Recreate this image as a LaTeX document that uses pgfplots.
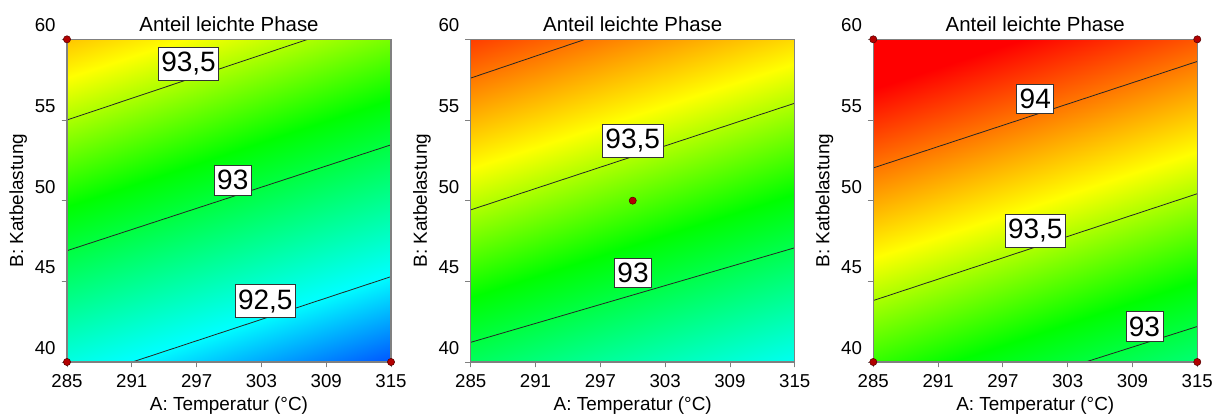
\documentclass[border=0pt]{standalone}
\usepackage{fontspec}
\setmainfont{Liberation Sans}
\usepackage{pgfplots}
\pgfplotsset{compat=1.18}

\pgfplotsset{
  de/.style={
    view={0}{90},
    scale only axis, width=243pt, height=242pt,
    xmin=285, xmax=315, ymin=40, ymax=60,
    xtick={285,291,297,303,309,315},
    ytick={40,45,50,55,60},
    xtick pos=bottom, ytick pos=left,
    hide z axis,
    tick align=outside,
    major tick length=4pt,
    tick style={gray, line width=0.6pt},
    axis line style={gray, line width=0.8pt},
    /pgf/number format/assume math mode=true,
    /pgf/number format/1000 sep={},
    tick label style={font=\fontsize{14}{14}\selectfont},
    xticklabel style={yshift=-2pt},
    yticklabel style={anchor=south east, yshift=2pt, xshift=-1pt},
    xlabel={A: Temperatur (°C)},
    ylabel={B: Katbelastung},
    label style={font=\fontsize{14.2}{14}\selectfont},
    xlabel style={yshift=0pt},
    ylabel style={yshift=-1pt},
    title={Anteil leichte Phase},
    title style={font=\fontsize{15.3}{15}\selectfont, yshift=-4pt},
    colormap={designexpert}{rgb255(0pt)=(0,0,255); rgb255(50pt)=(0,255,255); rgb255(117pt)=(0,255,0); rgb255(166pt)=(255,255,0); rgb255(230pt)=(255,0,0); rgb255(250pt)=(255,0,0)},
    point meta min=92.0, point meta max=94.5,
  },
  cline/.style={black!85, line width=0.6pt},
  dot/.style={only marks, mark=*, mark size=2.7pt, mark options={fill=red!70!black, draw=red!35!black}},
}
\tikzset{
  clab/.style={fill=white, draw=black!80, line width=0.5pt, inner xsep=2.2pt, inner ysep=3.7pt, font=\fontsize{21}{21}\selectfont},
}

\begin{document}
\begin{tikzpicture}

% ---------- panel 1
\begin{axis}[de, at={(0pt,0pt)}]
\addplot3[surf, shader=interp, mesh/rows=5, point meta=explicit] table[meta=z] {
A B z
285 40 92.574
291 40 92.493
297 40 92.411
303 40 92.330
309 40 92.248
315 40 92.167
285 45 92.883
291 45 92.801
297 45 92.720
303 45 92.639
309 45 92.557
315 45 92.476
285 50 93.191
291 50 93.110
297 50 93.028
303 50 92.947
309 50 92.865
315 50 92.784
285 55 93.500
291 55 93.418
297 55 93.337
303 55 93.255
309 55 93.174
315 55 93.092
285 60 93.808
291 60 93.727
297 60 93.645
303 60 93.564
309 60 93.482
315 60 93.401
};
\addplot3[cline] coordinates {(285,55,95) (307.3,60,95)};
\addplot3[cline] coordinates {(285,46.9,95) (315,53.46,95)};
\addplot3[cline] coordinates {(291.05,40,95) (315,45.29,95)};
\node[clab] at (axis cs:296.25,58.49,95) {93,5};
\node[clab] at (axis cs:300.35,51.28,95) {93};
\node[clab] at (axis cs:303.36,43.78,95) {92,5};
\addplot3[dot, clip=false] coordinates {(285,60,95) (285,40,95) (315,40,95)};
\end{axis}

% ---------- panel 2
\begin{axis}[de, at={(302.8pt,0pt)}]
\addplot3[surf, shader=interp, mesh/rows=5, point meta=explicit] table[meta=z] {
A B z
285 40 92.926
291 40 92.847
297 40 92.768
303 40 92.690
309 40 92.611
315 40 92.532
285 45 93.231
291 45 93.152
297 45 93.074
303 45 92.995
309 45 92.916
315 45 92.837
285 50 93.537
291 50 93.458
297 50 93.379
303 50 93.300
309 50 93.222
315 50 93.143
285 55 93.842
291 55 93.763
297 55 93.684
303 55 93.606
309 55 93.527
315 55 93.448
285 60 94.147
291 60 94.068
297 60 93.989
303 60 93.911
309 60 93.832
315 60 93.753
};
\addplot3[cline] coordinates {(285,57.6,95) (295.6,60,95)};
\addplot3[cline] coordinates {(285,49.43,95) (315,56.04,95)};
\addplot3[cline] coordinates {(285,41.22,95) (315,47.08,95)};
\node[clab] at (axis cs:300.0,53.70,95) {93,5};
\node[clab] at (axis cs:300.03,45.53,95) {93};
\addplot3[dot] coordinates {(300,50,95)};
\end{axis}

% ---------- panel 3
\begin{axis}[de, at={(604.7pt,0pt)}]
\addplot3[surf, shader=interp, mesh/rows=5, point meta=explicit] table[meta=z] {
A B z
285 40 93.268
291 40 93.188
297 40 93.107
303 40 93.026
309 40 92.946
315 40 92.865
285 45 93.573
291 45 93.493
297 45 93.412
303 45 93.331
309 45 93.251
315 45 93.170
285 50 93.878
291 50 93.798
297 50 93.717
303 50 93.636
309 50 93.556
315 50 93.475
285 55 94.183
291 55 94.103
297 55 94.022
303 55 93.941
309 55 93.861
315 55 93.780
285 60 94.488
291 60 94.408
297 60 94.327
303 60 94.246
309 60 94.166
315 60 94.085
};
\addplot3[cline] coordinates {(285,52.03,95) (315,58.63,95)};
\addplot3[cline] coordinates {(285,43.81,95) (315,50.43,95)};
\addplot3[cline] coordinates {(304.65,40,95) (315,42.2,95)};
\node[clab] at (axis cs:300.0,56.31,95) {94};
\node[clab] at (axis cs:300.0,48.13,95) {93,5};
\node[clab] at (axis cs:310.1,42.2,95) {93};
\addplot3[dot, clip=false] coordinates {(285,60,95) (315,60,95) (285,40,95) (315,40,95)};
\end{axis}

\pgfresetboundingbox
\path (-50.25pt,-39pt) rectangle (861.75pt,271.5pt);
\end{tikzpicture}
\end{document}
